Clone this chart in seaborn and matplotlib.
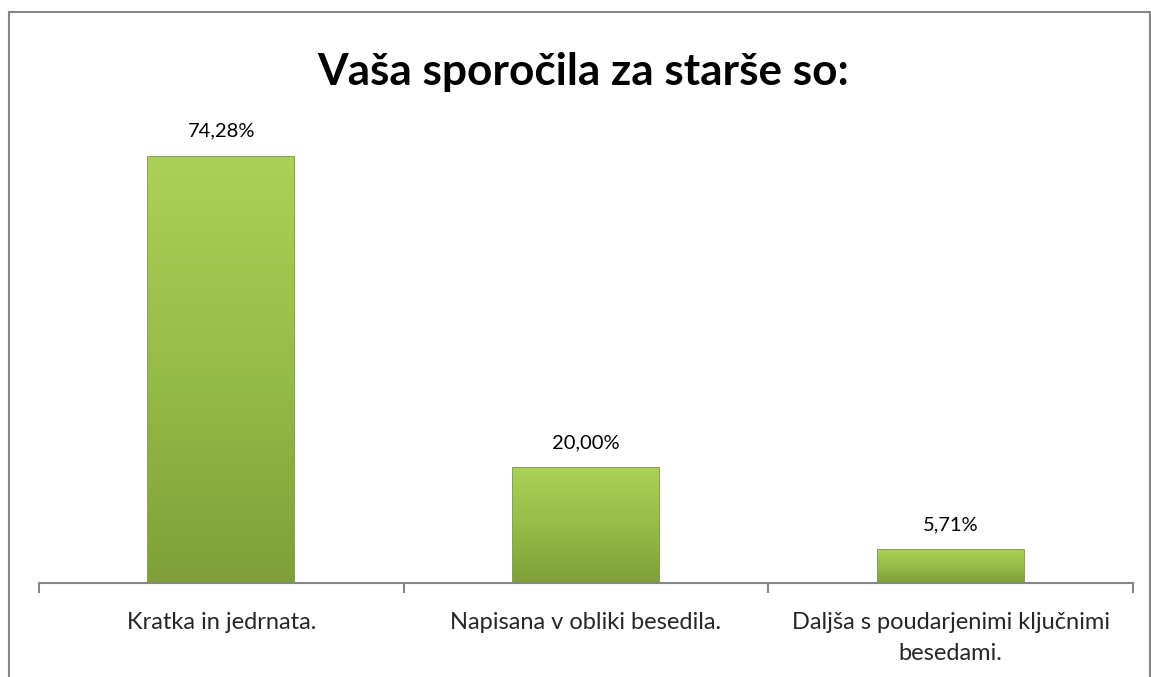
import numpy as np
import pandas as pd
import matplotlib.pyplot as plt
import matplotlib.patches as mpatches
import seaborn as sns

# Chart data
categories = ["Kratka in jedrnata.",
              "Napisana v obliki besedila.",
              "Daljša s poudarjenimi ključnimi\nbesedami."]
shares = [74.28, 20.00, 5.71]
share_labels = ["74,28%", "20,00%", "5,71%"]
title = "Vaša sporočila za starše so:"

df = pd.DataFrame({"category": categories, "share": shares})

sns.set_style("white")
plt.rcParams['font.family'] = ['Lato', 'DejaVu Sans']

fig = plt.figure(figsize=(11.51, 6.77), dpi=100)
ax = fig.add_axes([0.0339, 0.1389, 0.9505, 0.678])

sns.barplot(data=df, x="category", y="share", color="#9bc64a",
            width=0.4, saturation=1, edgecolor="#6f8f30", linewidth=1.2, ax=ax)

# vertical gradient inside each bar (lighter top, darker bottom)
grad = np.linspace(0, 1, 256).reshape(-1, 1)
cmap = sns.blend_palette(["#7e9f3a", "#95bd48", "#aad256"], as_cmap=True)
for bar in ax.patches:
    x0, y0 = bar.get_x(), bar.get_y()
    w, h = bar.get_width(), bar.get_height()
    im = ax.imshow(grad, extent=[x0, x0 + w, y0, y0 + h], aspect="auto",
                   cmap=cmap, origin="lower", zorder=bar.get_zorder())
    im.set_clip_path(bar)

for bar, lab in zip(ax.patches, share_labels):
    ax.text(bar.get_x() + bar.get_width() / 2, bar.get_height() + 3.0, lab,
            ha="center", va="bottom", fontsize=14.5, color="#000000")

ax.set_xlim(-0.5, len(categories) - 0.5)
ax.set_ylim(0, 80)
ax.set_xlabel("")
ax.set_ylabel("")
ax.set_yticks([])
for side in ["left", "right", "top"]:
    ax.spines[side].set_visible(False)
ax.spines["bottom"].set_color("#868686")
ax.spines["bottom"].set_linewidth(1.5)

ax.set_xticks(range(len(categories)))
ax.set_xticklabels(categories, fontsize=17, linespacing=1.6)
ax.tick_params(axis="x", which="major", bottom=False, length=0, pad=21)
ax.set_xticks(np.arange(-0.5, len(categories)), minor=True)
ax.tick_params(axis="x", which="minor", bottom=True, length=7, width=1.5,
               color="#868686", direction="out")

fig.text(0.507, 0.893, title, ha="center", va="center", fontsize=31.8,
         fontweight="bold", color="#000000")

# outer chart frame
frame = mpatches.Rectangle((9 / 1151, -0.05), 1141 / 1151, 1.05 - 11.5 / 677,
                           transform=fig.transFigure, fill=False,
                           edgecolor="#868686", linewidth=1.5)
fig.patches.append(frame)

fig.savefig("out.png", dpi=100)
